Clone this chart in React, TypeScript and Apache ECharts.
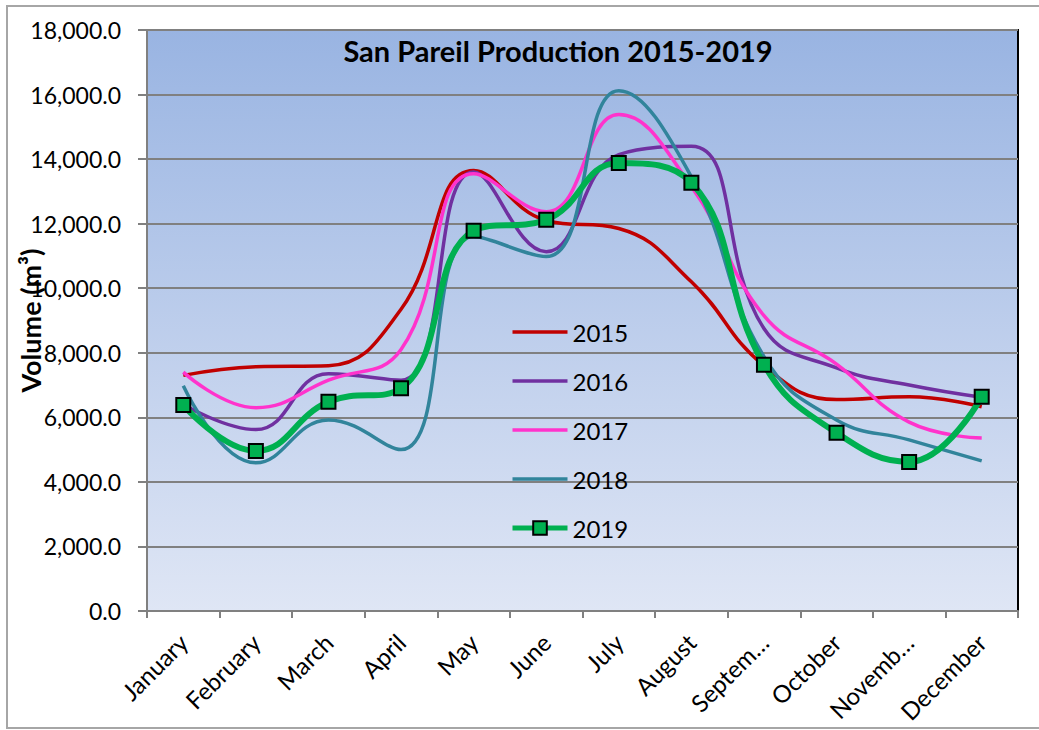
import React, { useEffect, useRef } from "react";
import * as echarts from "echarts";

const months = [
  "January", "February", "March", "April", "May", "June",
  "July", "August", "Septem…", "October", "Novemb…", "December",
];
const y2015 = [7300, 7570, 7600, 9350, 13650, 12100, 11850, 10200, 7600, 6550, 6640, 6330];
const y2016 = [6400, 5620, 7350, 7150, 13600, 11130, 14140, 14400, 8750, 7530, 7000, 6620];
const y2017 = [7400, 6300, 7150, 8100, 13550, 12370, 15380, 13150, 9150, 7650, 5850, 5360];
const y2018 = [6980, 4590, 5920, 5000, 11600, 10980, 16120, 13450, 7880, 5920, 5300, 4650];
const y2019 = [6380, 4960, 6480, 6900, 11780, 12120, 13880, 13270, 7630, 5520, 4620, 6640];
const seriesNames = ["2015", "2016", "2017", "2018", "2019"];
const title = "San Pareil Production 2015-2019";
const yName = "Volume (m³)";

const FONT = "Lato";
const LINE_ICON = "path://M0,0M55,17M0,6.75h55v3.5h-55z";

function fmt(v: number): string {
  const s = v.toFixed(1);
  const [i, d] = s.split(".");
  return i.replace(/\B(?=(\d{3})+(?!\d))/g, ",") + "." + d;
}

export default function App() {
  const ref = useRef<HTMLDivElement>(null);
  useEffect(() => {
    if (!ref.current) return;
    const chart = echarts.init(ref.current, null, { renderer: "svg" });
    const thin = (name: string, data: number[], color: string) => ({
      name,
      type: "line",
      data,
      smooth: 0.45,
      showSymbol: false,
      symbol: "none",
      lineStyle: { color, width: 3.5 },
      itemStyle: { color },
      z: 3,
    });
    chart.setOption({
      animation: false,
      backgroundColor: "#ffffff",
      textStyle: { fontFamily: FONT },
      title: {
        text: title,
        left: 553,
        top: 31,
        textAlign: "center",
        textStyle: { fontFamily: FONT, fontWeight: "bold", fontSize: 29, color: "#000" },
      },
      graphic: [
        {
          type: "rect",
          shape: { x: 7, y: 6, width: 1100, height: 722 },
          style: { fill: "none", stroke: "#a6a6a6", lineWidth: 2 },
          silent: true,
          z: -10,
        },
      ],
      legend: {
        orient: "vertical",
        left: 505,
        top: 315,
        itemWidth: 55,
        itemHeight: 17,
        itemGap: 25,
        lineStyle: { width: 5 },
        textStyle: { fontFamily: FONT, fontSize: 24, color: "#000", lineHeight: 23 },
        data: seriesNames.map((n) => (n === "2019" ? { name: n } : { name: n, icon: LINE_ICON })),
      },
      grid: {
        left: 147,
        top: 30,
        right: 21,
        bottom: 119,
        outerBoundsMode: "none",
        containLabel: false,
        show: true,
        borderColor: "#000",
        borderWidth: 2,
        backgroundColor: new echarts.graphic.LinearGradient(0, 0, 0, 1, [
          { offset: 0, color: "#99b4e2" },
          { offset: 1, color: "#dfe6f5" },
        ]),
      },
      xAxis: {
        type: "category",
        data: months,
        boundaryGap: true,
        axisLine: { lineStyle: { color: "#808080", width: 2 } },
        axisTick: { show: true, length: 7, lineStyle: { color: "#808080", width: 2 }, interval: 0 },
        axisLabel: {
          rotate: 45,
          interval: 0,
          margin: 27,
          fontFamily: FONT,
          fontSize: 24,
          color: "#000",
        },
        splitLine: { show: false },
      },
      yAxis: {
        type: "value",
        min: 0,
        max: 18000,
        interval: 2000,
        name: yName,
        nameLocation: "middle",
        nameGap: 103,
        nameMoveOverlap: false,
        nameTextStyle: { fontFamily: FONT, fontWeight: "bold", fontSize: 27, color: "#000" },
        axisLine: { show: true, lineStyle: { color: "#808080", width: 2 } },
        axisTick: { show: true, length: 9, lineStyle: { color: "#808080", width: 2 } },
        axisLabel: {
          formatter: (v: number) => fmt(v),
          margin: 26,
          fontFamily: FONT,
          fontSize: 23,
          color: "#000",
        },
        splitLine: { show: true, lineStyle: { color: "#808080", width: 2 } },
      },
      series: [
        thin("2015", y2015, "#c00000"),
        thin("2016", y2016, "#7030a0"),
        thin("2017", y2017, "#ff33cc"),
        thin("2018", y2018, "#31849b"),
        {
          name: "2019",
          type: "line",
          data: y2019,
          smooth: 0.45,
          symbol: "rect",
          symbolSize: 14,
          showSymbol: true,
          lineStyle: { color: "#00b050", width: 6 },
          itemStyle: { color: "#00b050", borderColor: "#000", borderWidth: 2 },
          z: 4,
        },
      ],
    });
    return () => chart.dispose();
  }, []);
  return (
    <div
      ref={ref}
      style={{ position: "fixed", left: 0, top: 0, width: 1039, height: 730 }}
    />
  );
}
